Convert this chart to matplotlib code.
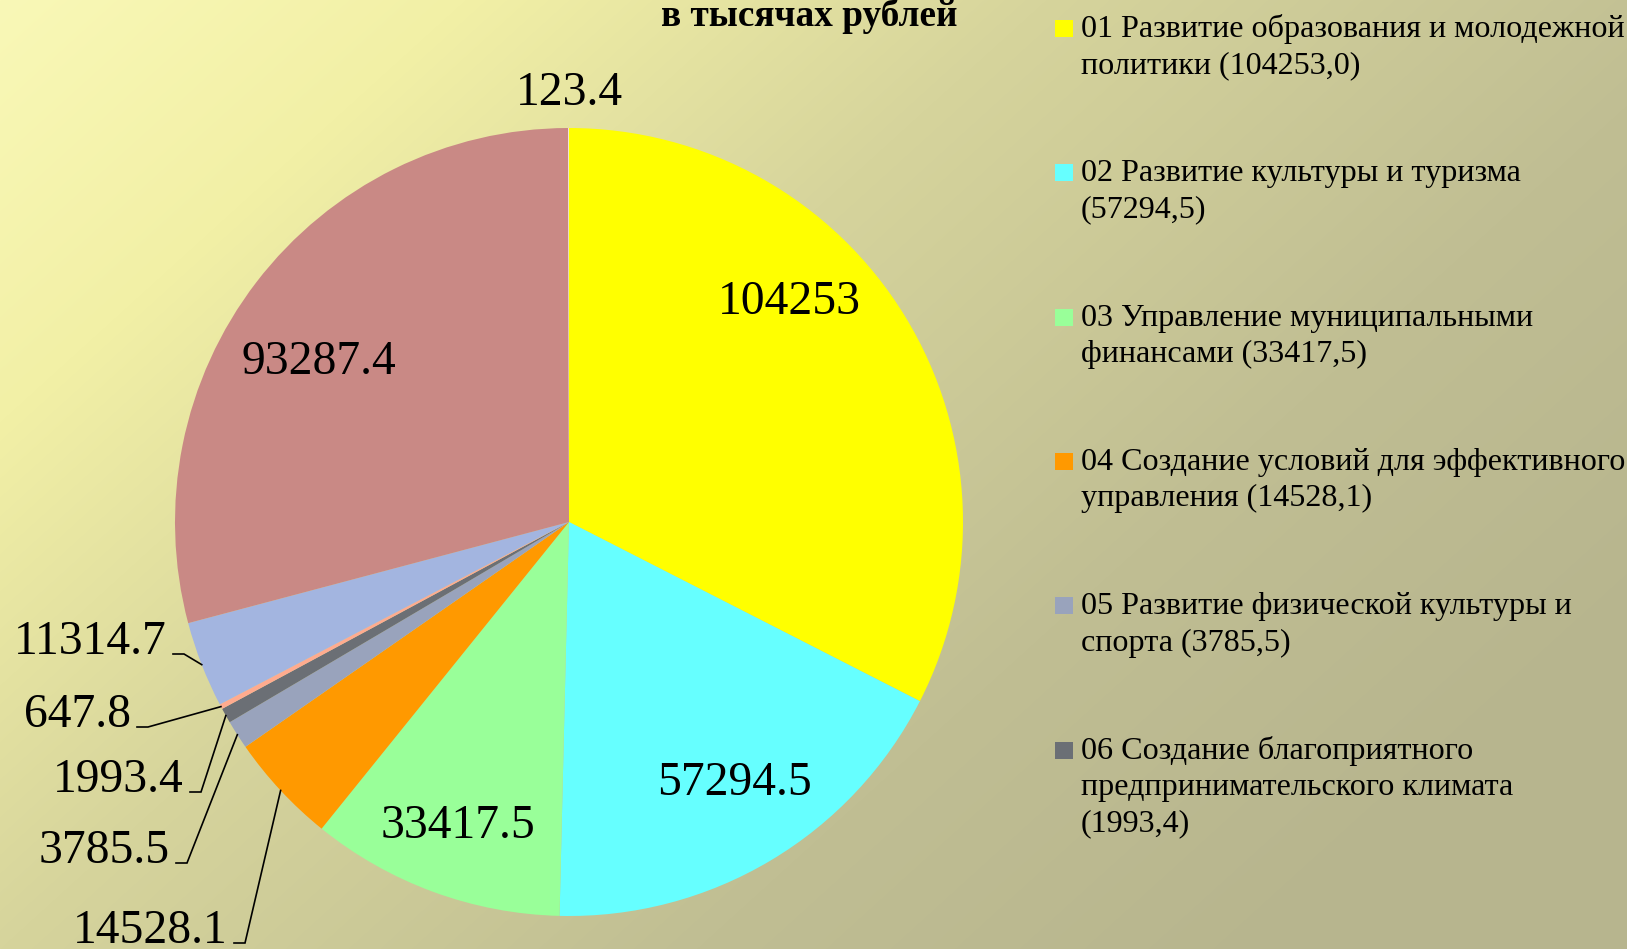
import numpy as np
import matplotlib
matplotlib.use('Agg')
import matplotlib.pyplot as plt
from matplotlib.patches import Rectangle

# ---------------- data ----------------
values = [104253.0, 57294.5, 33417.5, 14528.1, 3785.5, 1993.4, 647.8, 11314.7, 93287.4, 123.4]
colors = ['#FFFF00', '#66FFFF', '#99FF99', '#FF9900', '#99A3BC',
          '#6B6F75', '#FFAB8F', '#A3B5E0', '#C98985', '#F3E2DA']
legend_labels = [
    "01 Развитие образования и молодежной\nполитики (104253,0)",
    "02 Развитие культуры и туризма\n(57294,5)",
    "03 Управление муниципальными\nфинансами (33417,5)",
    "04 Создание условий для эффективного\nуправления (14528,1)",
    "05 Развитие физической культуры и\nспорта (3785,5)",
    "06 Создание благоприятного\nпредпринимательского климата\n(1993,4)",
]
title = "в тысячах рублей"

# ---------------- layout (pixel coords, y measured from top) ----------------
W, H = 1627, 949
CX, CY, R = 569, 522, 394
inside_pos = {0: (789, 302), 1: (734, 783), 2: (458, 826), 8: (319, 362), 9: (569, 93)}
# index -> (text right edge, baseline)
outside_pos = {7: (167, 654), 6: (131, 727), 5: (184, 792), 4: (170, 863), 3: (228, 943)}

def Y(y):
    return H - y

fig = plt.figure(figsize=(W / 100, H / 100), dpi=100)
ax = fig.add_axes([0, 0, 1, 1])

# background gradient
xs = np.linspace(0, 1, W)
ys = np.linspace(0, 1, H)
XX, YY = np.meshgrid(xs, ys)
t = np.clip(0.70 * XX + 0.45 * YY, 0, 1)
stops_t = [0.0, 0.2, 0.45, 0.75, 1.0]
stops_c = np.array([(249, 248, 183), (242, 240, 166), (214, 212, 156),
                    (192, 190, 147), (183, 181, 142)], dtype=float) / 255.0
img = np.zeros((H, W, 3))
for c in range(3):
    img[..., c] = np.interp(t, stops_t, stops_c[:, c])
ax.imshow(img, extent=(0, W, 0, H), origin='upper', zorder=0, aspect='auto')

wedges, _ = ax.pie(values, colors=colors, startangle=90, counterclock=False,
                   center=(CX, Y(CY)), radius=R,
                   wedgeprops=dict(linewidth=0), frame=False)
ax.set_xlim(0, W)
ax.set_ylim(0, H)
ax.set_aspect('auto')
ax.axis('off')

lab_font = dict(family='Liberation Serif', fontsize=34.3, color='black')
for i, (x, y) in inside_pos.items():
    ax.text(x, Y(y), f"{values[i]:g}", ha='center', va='center', zorder=5, **lab_font)

for i, (xr, yb) in outside_pos.items():
    ax.text(xr, Y(yb), f"{values[i]:g}", ha='right', va='baseline', zorder=5, **lab_font)
    w = wedges[i]
    mid = np.deg2rad((w.theta1 + w.theta2) / 2)
    axp = CX + R * np.cos(mid)
    ayp = Y(CY) + R * np.sin(mid)
    ax.plot([xr + 6, xr + 17, axp], [Y(yb), Y(yb), ayp], color='black', lw=1.2,
            zorder=6, solid_joinstyle='miter')

# title
ax.text(809, Y(26), title, ha='center', va='baseline', family='Liberation Serif',
        fontsize=26.8, fontweight='bold', color='black', zorder=5)

# legend
for i, label in enumerate(legend_labels):
    base = 36.7 + 144.4 * i
    ax.add_patch(Rectangle((1055, Y(base)), 18, 17, facecolor=colors[i],
                           edgecolor='none', zorder=5))
    for k, line in enumerate(label.split('\n')):
        ax.text(1081, Y(base + 36.5 * k), line, ha='left', va='baseline',
                family='Liberation Serif', fontsize=23.1, color='black', zorder=5)

fig.savefig('out.png', dpi=100)
